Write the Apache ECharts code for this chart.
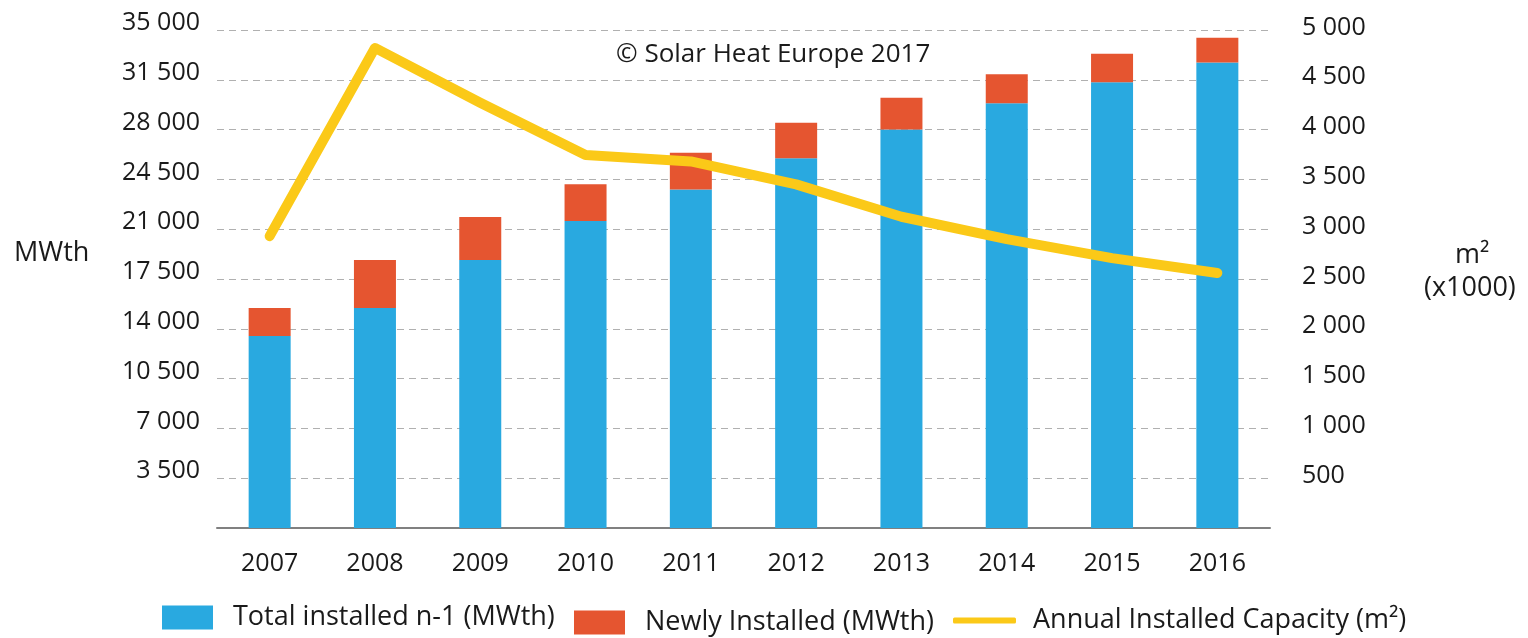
<!DOCTYPE html>
<html>
<head>
<meta charset="utf-8">
<script src="https://cdn.jsdelivr.net/npm/echarts@6/dist/echarts.min.js"></script>
<style>
  html, body { margin: 0; padding: 0; background: #fff; }
  #chart { width: 1528px; height: 638px; }
</style>
</head>
<body>
<div id="chart"></div>
<script>
const years = ['2007', '2008', '2009', '2010', '2011', '2012', '2013', '2014', '2015', '2016'];
const totalPrev = [13500, 15460, 18840, 21580, 23790, 25980, 28010, 29850, 31320, 32720];
const newlyInstalled = [1970, 3370, 3020, 2580, 2590, 2500, 2230, 2040, 2010, 1740];
const annualArea = [2930, 4820, 4270, 3745, 3680, 3450, 3125, 2900, 2710, 2560];

const font = 'Open Sans';
const textColor = '#1a1a1a';

function spaced(v) {
  if (v === 0) return '';
  return String(v).replace(/\B(?=(\d{3})+(?!\d))/g, ' ');
}

const chart = echarts.init(document.getElementById('chart'));
const option = {
  animation: false,
  textStyle: { fontFamily: font, color: textColor },
  grid: { left: 217, right: 258, top: 30, bottom: 110 },
  legend: [
    {
      left: 162, top: 604, padding: 0,
      itemWidth: 51, itemHeight: 24,
      icon: 'rect',
      data: ['Total installed n-1 (MWth)'],
      textStyle: { fontSize: 27, color: textColor, fontFamily: font, padding: [10, 0, 0, 15] }
    },
    {
      left: 574, top: 609, padding: 0,
      itemWidth: 51, itemHeight: 24,
      icon: 'rect',
      data: ['Newly Installed (MWth)'],
      textStyle: { fontSize: 27, color: textColor, fontFamily: font, padding: [0, 0, 0, 15] }
    },
    {
      left: 953, top: 607, padding: 0,
      itemWidth: 63, itemHeight: 6,
      icon: 'roundRect',
      data: ['Annual Installed Capacity (m²)'],
      textStyle: { fontSize: 27, color: textColor, fontFamily: font, padding: [10, 0, 0, 12] }
    }
  ],
  xAxis: {
    type: 'category',
    data: years,
    axisLine: { lineStyle: { color: '#808080', width: 2 } },
    axisTick: { show: false },
    axisLabel: { fontSize: 25, color: textColor, margin: 23 }
  },
  yAxis: [
    {
      type: 'value',
      min: 0, max: 35000, interval: 3500,
      axisLine: { show: false },
      axisTick: { show: false },
      axisLabel: {
        fontSize: 25, color: textColor, margin: 17,
        verticalAlign: 'bottom', lineHeight: 14,
        formatter: spaced
      },
      splitLine: { lineStyle: { color: '#b0b0b0', type: [7, 5], width: 1 } }
    },
    {
      type: 'value',
      min: 0, max: 5000, interval: 500,
      position: 'right',
      axisLine: { show: false },
      axisTick: { show: false },
      axisLabel: {
        fontSize: 25, color: textColor, margin: 32,
        verticalAlign: 'bottom', lineHeight: 5,
        formatter: spaced
      },
      splitLine: { show: false }
    }
  ],
  graphic: [
    {
      type: 'text', left: 14, top: 240,
      style: { text: 'MWth', fontSize: 27, fontFamily: font, fill: textColor }
    },
    {
      type: 'text', left: 1455, top: 242,
      style: { text: 'm²', fontSize: 27, fontFamily: font, fill: textColor }
    },
    {
      type: 'text', left: 1424, top: 275,
      style: { text: '(x1000)', fontSize: 27, fontFamily: font, fill: textColor }
    },
    {
      type: 'text', left: 616, top: 42,
      style: { text: '© Solar Heat Europe 2017', fontSize: 26, fontFamily: font, fill: textColor }
    }
  ],
  series: [
    {
      name: 'Total installed n-1 (MWth)',
      type: 'bar',
      stack: 'total',
      barWidth: 42,
      itemStyle: { color: '#29a9e0' },
      data: totalPrev
    },
    {
      name: 'Newly Installed (MWth)',
      type: 'bar',
      stack: 'total',
      barWidth: 42,
      itemStyle: { color: '#e55530' },
      data: newlyInstalled
    },
    {
      name: 'Annual Installed Capacity (m²)',
      type: 'line',
      yAxisIndex: 1,
      symbol: 'none',
      z: 5,
      itemStyle: { color: '#fbc918' },
      lineStyle: { color: '#fbc918', width: 10, cap: 'round', join: 'round' },
      data: annualArea
    }
  ]
};

chart.setOption(option);
window.addEventListener('resize', function () {
  chart.resize();
});
</script>
</body>
</html>
